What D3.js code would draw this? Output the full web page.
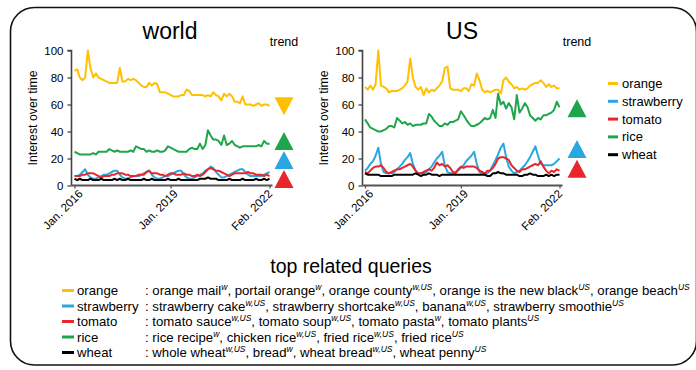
<!DOCTYPE html>
<html><head><meta charset="utf-8">
<script src="https://cdn.jsdelivr.net/npm/d3@7/dist/d3.min.js"></script>
<style>
body{margin:0;background:#fff}
svg{display:block}
text{font-family:'Liberation Sans',Arial,Helvetica,sans-serif;fill:#000}
</style>
</head><body>
<svg id="chart" width="696" height="370"></svg>
<script>
// ---------- DATA ----------
const seriesNames = ["orange","strawberry","tomato","rice","wheat"];
const seriesColors = ["#FFC000","#2AA7E1","#E8262B","#1FA64B","#000000"];
const months = d3.timeMonth.range(new Date(2016,0,1), new Date(2022,2,1)); // Jan 2016 .. Feb 2022 (74)

const worldOrange = [85,86,80,78,80,100,87,80,83,80,79,78,77,76,76,76,76,87,77,77,79,78,79,78,76,74,73,73,76,74,76,75,69,69,69,68,67,66,66,66,67,67,71,70,67,67,67,67,67,66,67,66,69,67,66,63,68,66,68,66,62,62,61,66,60,60,60,59,60,61,59,60,60,59];
const worldStrawberry = [7,7,8,10,12,8,6,5,5,6,7,8,8,9,10,11,11,8,6,5,5,6,7,7,7,8,9,10,11,8,6,5,5,6,7,7,8,9,10,11,11,8,6,5,5,6,7,8,9,11,12,14,13,10,8,6,6,7,8,9,10,11,12,12,10,8,7,7,7,7,7,8,9,10];
const worldTomato = [7,7,7,8,8,9,9,9,8,7,6,7,7,7,8,8,9,9,9,8,8,7,7,7,8,8,8,10,11,9,9,9,8,8,7,8,9,9,8,8,8,9,8,8,7,7,8,7,8,10,12,13,12,11,11,10,9,8,7,8,9,9,9,9,9,10,9,9,8,8,8,7,8,7];
const worldRice = [25,24,23,23,23,23,23,24,23,25,25,25,25,27,26,25,26,25,25,25,25,26,25,29,28,27,27,25,26,25,25,26,25,25,26,29,28,27,26,25,25,25,25,27,28,27,27,31,27,30,41,37,34,34,33,30,37,30,31,33,30,29,28,29,29,29,29,29,29,30,29,33,31,31];
const worldWheat = [5,4,5,4,4,4,5,4,4,4,5,4,4,4,4,5,4,5,4,4,5,4,4,4,4,4,5,4,4,5,4,4,4,4,4,5,4,4,4,5,4,4,4,4,4,4,4,5,5,5,6,5,5,5,4,4,4,4,5,4,4,4,4,5,4,4,4,4,5,4,4,5,4,5];

const usOrange = [73,71,74,71,75,100,74,73,72,69,70,70,70,71,72,74,77,94,80,73,71,73,67,72,69,71,70,72,74,77,87,88,72,71,71,71,70,72,72,70,75,74,83,78,71,69,70,69,70,71,71,68,78,80,77,75,72,73,71,72,71,72,74,75,76,76,78,76,73,75,73,74,72,72];
const usStrawberry = [11,13,16,18,22,28,16,10,9,9,9,10,12,14,16,19,21,24,16,11,9,9,9,10,12,14,17,20,22,25,15,10,9,9,10,11,13,15,18,20,22,25,16,10,9,8,9,11,15,19,23,28,31,21,14,11,9,10,11,13,15,18,21,25,29,22,16,15,15,15,15,16,18,20];
const usTomato = [10,9,11,13,14,14,15,13,10,9,10,11,12,12,13,14,15,16,14,11,9,9,10,11,12,11,13,17,15,16,14,15,13,10,9,12,14,13,14,14,14,14,13,11,10,9,11,11,13,16,20,21,21,20,19,15,13,11,10,12,12,13,14,15,16,15,18,14,11,9,11,10,12,11];
const usRice = [49,46,43,42,41,40,40,41,42,44,44,43,50,48,46,47,45,46,44,45,45,45,46,46,53,51,48,46,44,44,46,45,47,47,48,49,55,52,49,46,44,44,45,46,48,50,49,50,56,50,68,60,62,57,61,58,49,67,54,57,61,58,52,50,48,50,49,52,52,53,54,56,62,58];
const usWheat = [9,8,8,8,8,8,7,7,7,7,7,8,8,8,8,8,8,8,8,9,8,7,8,8,9,8,8,8,7,8,8,8,8,8,8,8,8,8,8,8,8,8,8,8,8,8,7,7,9,9,10,9,9,8,8,8,8,8,7,7,8,8,9,8,8,7,7,7,8,7,8,7,8,8];

const yTicks = [0,20,40,60,80,100];
const xTickDates = [new Date(2016,0,1), new Date(2019,0,1), new Date(2022,1,1)];
const xTickLabels = ["Jan. 2016","Jan. 2019","Feb. 2022"];

// trend arrows: series, direction, level (in chart units)
const worldTrendSeries = ["orange","rice","strawberry","tomato"];
const worldTrendDir = ["down","up","up","up"];
const worldTrendLevel = [58.7,33,18.8,4.8];
const usTrendSeries = ["rice","strawberry","tomato"];
const usTrendDir = ["up","up","up"];
const usTrendLevel = [57.3,27,12.4];

const queryNames = ["orange","strawberry","tomato","rice","wheat"];
const queriesOrange = [["orange mail","w"],["portail orange","w"],["orange county","w,US"],["orange is the new black","US"],["orange beach","US"]];
const queriesStrawberry = [["strawberry cake","w,US"],["strawberry shortcake","w,US"],["banana","w,US"],["strawberry smoothie","US"]];
const queriesTomato = [["tomato sauce","w,US"],["tomato soup","w,US"],["tomato pasta","w"],["tomato plants","US"]];
const queriesRice = [["rice recipe","w"],["chicken rice","w,US"],["fried rice","w,US"],["fried rice","US"]];
const queriesWheat = [["whole wheat","w,US"],["bread","w"],["wheat bread","w,US"],["wheat penny","US"]];

// ---------- DRAW ----------
const svg = d3.select("#chart");
const color = d3.scaleOrdinal().domain(seriesNames).range(seriesColors);

const tableSize = 13.2;
const xLabelShift = [8.5, 7.5, 3];

// frame
svg.append("rect").attr("x",10.5).attr("y",7.5).attr("width",686).attr("height",357.5)
  .attr("rx",24).attr("ry",24).attr("fill","none").attr("stroke","#111").attr("stroke-width",1.6);

function panel(opts){
  const g = svg.append("g");
  const x = d3.scaleTime().domain([months[0], months[months.length-1]]).range([opts.x0, opts.x1]);
  const y = d3.scaleLinear().domain([0,100]).range([185.5, 50.5]);

  g.append("text").attr("x",opts.titleX).attr("y",39).attr("text-anchor","middle")
    .style("font-size","23px").text(opts.title);
  g.append("text").attr("x",opts.trendX).attr("y",46).attr("text-anchor","middle")
    .style("font-size","12.5px").text("trend");

  const ya = g.append("g").attr("transform",`translate(${opts.axisX},0)`)
    .call(d3.axisLeft(y).tickValues(yTicks).tickSize(4).tickPadding(4));
  ya.select(".domain").attr("stroke","#444").attr("stroke-width",1.6).attr("d",`M-4,${y(100)}H0V${y(0)}`);
  ya.selectAll(".tick line").attr("stroke","#444").attr("stroke-width",1.3);
  ya.selectAll(".tick text").style("font-size","11.5px").style("font-family","'Liberation Sans',Arial,sans-serif").attr("fill","#000");

  g.append("text").attr("transform",`translate(${opts.ylabX},${(y(0)+y(100))/2}) rotate(-90)`)
    .attr("text-anchor","middle").attr("dy","0.35em").style("font-size","12.3px").text("Interest over time");

  const xa = g.append("g").attr("transform",`translate(0,${y(0)})`)
    .call(d3.axisBottom(x).tickValues(xTickDates).tickFormat((d,i)=>xTickLabels[i]).tickSize(3));
  xa.select(".domain").attr("stroke","#555").attr("stroke-width",2).attr("d",`M${opts.axisX},0H${opts.x1+3}`);
  xa.selectAll(".tick line").attr("stroke","#555").attr("stroke-width",1.3);
  xa.selectAll(".tick text").attr("x",0).attr("y",0).attr("dy",0)
    .attr("transform",(d,i)=>`translate(${xLabelShift[i]},9) rotate(-45)`).attr("text-anchor","end")
    .style("font-size","11.5px").style("font-family","'Liberation Sans',Arial,sans-serif").attr("fill","#000");

  const line = d3.line().x((d,i)=>x(months[i])).y(d=>y(d));
  const order = ["orange","rice","strawberry","tomato","wheat"];
  order.forEach(name=>{
    g.append("path").datum(opts.data[name]).attr("fill","none")
      .attr("stroke",color(name)).attr("stroke-width",2).attr("stroke-linejoin","round")
      .attr("d",line);
  });

  opts.trendSeries.forEach((s,i)=>{
    const rot = opts.trendDir[i]==="down" ? 180 : 0;
    g.append("path").attr("d","M0,-9L9.5,9L-9.5,9Z")
      .attr("transform",`translate(${opts.trendX},${y(opts.trendLevel[i])}) rotate(${rot})`)
      .attr("fill",color(s));
  });
  return {x,y};
}

panel({title:"world", titleX:170, trendX:284, axisX:71.5, x0:74.5, x1:269.5, ylabX:33,
  data:{orange:worldOrange,strawberry:worldStrawberry,tomato:worldTomato,rice:worldRice,wheat:worldWheat},
  trendSeries:worldTrendSeries, trendDir:worldTrendDir, trendLevel:worldTrendLevel});
panel({title:"US", titleX:462, trendX:577, axisX:362.5, x0:365, x1:559.5, ylabX:324,
  data:{orange:usOrange,strawberry:usStrawberry,tomato:usTomato,rice:usRice,wheat:usWheat},
  trendSeries:usTrendSeries, trendDir:usTrendDir, trendLevel:usTrendLevel});

// legend (US)
const lg = svg.append("g");
seriesNames.forEach((n,i)=>{
  const yy = 83.5 + i*17.8;
  lg.append("line").attr("x1",608).attr("x2",618).attr("y1",yy).attr("y2",yy)
    .attr("stroke",color(n)).attr("stroke-width",3);
  lg.append("text").attr("x",622).attr("y",yy).attr("dy","0.35em").style("font-size","13px").text(n);
});

// bottom: top related queries
svg.append("text").attr("x",351).attr("y",273).attr("text-anchor","middle")
  .style("font-size","19.5px").text("top related queries");
const allQueries = [queriesOrange,queriesStrawberry,queriesTomato,queriesRice,queriesWheat];
queryNames.forEach((n,i)=>{
  const yb = 295 + i*15.5;
  svg.append("line").attr("x1",62).attr("x2",74).attr("y1",yb-4.5).attr("y2",yb-4.5)
    .attr("stroke",color(n)).attr("stroke-width",3);
  svg.append("text").attr("x",77).attr("y",yb).style("font-size",tableSize+"px").text(n);
  const t = svg.append("text").attr("x",145).attr("y",yb).style("font-size",tableSize+"px");
  t.append("tspan").text(": ");
  allQueries[i].forEach((q,j)=>{
    t.append("tspan").attr("dy", j===0?0:5).text((j>0?", ":"")+q[0]);
    t.append("tspan").attr("dy",-5).style("font-size","8.5px").style("font-style","italic").text(q[1]);
  });
});
</script>
</body></html>
